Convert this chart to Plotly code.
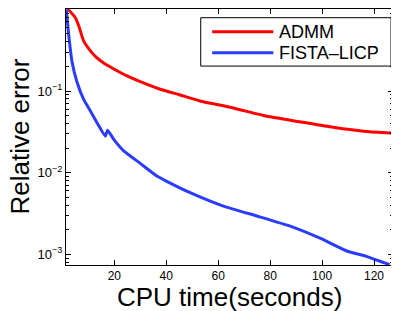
import plotly.graph_objects as go

# ADMM curve
admm_x = [2.2, 5.0, 6.3, 8.2, 10.8, 13.0, 15.9, 20, 24.9, 30, 37.7, 45, 53, 65.8, 78.8, 91.5, 104.2, 117, 127.3]
admm_y = [1.0, 0.79, 0.63, 0.41, 0.31, 0.26, 0.22, 0.185, 0.153, 0.13, 0.105, 0.09, 0.0755, 0.062, 0.049, 0.042, 0.036, 0.032, 0.0306]

# FISTA-LICP curve
fista_x = [1.5, 2.4, 3.7, 5.6, 8.2, 10.8, 13.5, 16.5, 17.4, 20, 23.6, 30, 36.4, 40, 49.2, 62, 74.9, 87.7, 99.2, 109.5, 117.3, 124.9, 126]
fista_y = [1.0, 0.5, 0.23, 0.13, 0.079, 0.057, 0.04, 0.028, 0.033, 0.025, 0.0185, 0.013, 0.0091, 0.0079, 0.0057, 0.0039, 0.00295, 0.00222, 0.00158, 0.0011, 0.00094, 0.00077, 0.00075]

series_names = ["ADMM", "FISTA\u2013LICP"]
series_colors = ["#ff0000", "#2a3cff"]

x_ticks = [20, 40, 60, 80, 100, 120]
y_major = [1e-3, 1e-2, 1e-1]
y_major_text = ["10<sup>\u22123</sup>", "10<sup>\u22122</sup>", "10<sup>\u22121</sup>"]
y_minor = [m * 10.0 ** e for e in (-4, -3, -2, -1) for m in range(2, 10)]

FONT = "Liberation Sans, Arial, Helvetica, sans-serif"

fig = go.Figure()
fig.add_trace(go.Scatter(x=admm_x, y=admm_y, mode="lines", name=series_names[0],
                         line=dict(color=series_colors[0], width=3, shape="spline", smoothing=0.5),
                         showlegend=False))
fig.add_trace(go.Scatter(x=fista_x, y=fista_y, mode="lines", name=series_names[1],
                         line=dict(color=series_colors[1], width=3, shape="spline", smoothing=0.4),
                         showlegend=False))

# manual legend (paper coords)
fig.add_shape(type="rect", xref="paper", yref="paper", x0=0.412, x1=0.994, y0=0.777, y1=0.966,
              line=dict(color="black", width=1), fillcolor="white", layer="above")
legend_y = [0.911, 0.829]
for name, col, ly in zip(series_names, series_colors, legend_y):
    fig.add_shape(type="line", xref="paper", yref="paper", x0=0.447, x1=0.634, y0=ly, y1=ly,
                  line=dict(color=col, width=3), layer="above")
    fig.add_annotation(xref="paper", yref="paper", x=0.645, y=ly, text=name, showarrow=False,
                       xanchor="left", yanchor="middle", font=dict(family=FONT, size=18, color="black"))

# axis titles
fig.add_annotation(xref="paper", yref="paper", x=0.5, y=-0.125, text="CPU time(seconds)", showarrow=False,
                   xanchor="center", yanchor="middle", font=dict(family=FONT, size=26, color="black"))
fig.add_annotation(xref="paper", yref="paper", x=-0.142, y=0.5, text="Relative error", showarrow=False,
                   textangle=-90, xanchor="center", yanchor="middle",
                   font=dict(family=FONT, size=26, color="black"))

# page body has an 8px margin, so the figure is 8px smaller on each axis
fig.update_layout(
    width=391, height=303,
    margin=dict(l=58, r=6, t=1, b=46),
    paper_bgcolor="white", plot_bgcolor="white",
    font=dict(family=FONT, color="black"),
    showlegend=False,
)
fig.update_xaxes(
    range=[1.4, 127.3], tickvals=x_ticks, ticks="inside", ticklen=5, tickcolor="black",
    showline=True, linecolor="black", linewidth=1, mirror="allticks", showgrid=False, zeroline=False,
    tickfont=dict(size=12, family=FONT), automargin=False,
)
fig.update_yaxes(
    type="log", range=[-3.13, 0.004], tickvals=y_major, ticktext=y_major_text, ticks="inside",
    ticklen=5, tickcolor="black",
    minor=dict(tickvals=y_minor, ticks="inside", ticklen=3, tickcolor="black", showgrid=False),
    showline=True, linecolor="black", linewidth=1, mirror="allticks", showgrid=False, zeroline=False,
    tickfont=dict(size=13, family=FONT), automargin=False,
)

fig.write_html("out.html")
